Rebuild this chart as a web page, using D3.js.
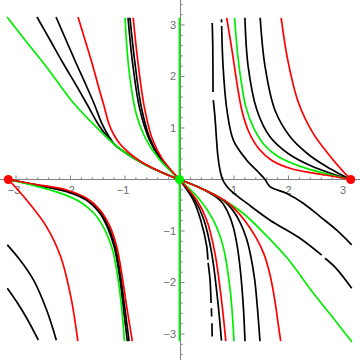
<!DOCTYPE html>
<html><head><meta charset="utf-8">
<script src="https://cdn.jsdelivr.net/npm/d3@7"></script>
<style>html,body{margin:0;padding:0;background:#fff;}svg{display:block;}</style>
</head><body>
<script>
// ---- data ----
const xTickValues = [-3, -2, -1, 1, 2, 3];
const yTickValues = [-3, -2, -1, 1, 2, 3];
const redPoints = [[-3.1416, 0], [3.1416, 0]];
const greenPoints = [[0, 0]];

// Quadrant I : curves running into (pi, 0)
const q1Red1 = [[0.866,3.14],[0.969,2.47],[1.061,1.821],[1.152,1.305],[1.275,0.917],[1.459,0.592],[1.703,0.365],[2.07,0.204],[2.683,0.087],[3.14,0]];
const q1Green = [[1.01,3.14],[1.07,2.40],[1.14,1.85],[1.22,1.40],[1.36,1.00],[1.55,0.68],[1.80,0.45],[2.20,0.26],[2.70,0.11],[3.14,0]];
const q1Black1 = [[1.20,3.14],[1.26,2.19],[1.42,1.35],[1.66,0.83],[2.0,0.50],[2.4,0.27],[2.8,0.11],[3.14,0]];
const q1Black2 = [[1.48,3.14],[1.57,2.19],[1.75,1.35],[2.03,0.83],[2.35,0.50],[2.68,0.26],[2.95,0.10],[3.14,0]];
const q1Red2 = [[1.865,3.14],[1.99,2.30],[2.18,1.50],[2.45,0.90],[2.82,0.38],[3.14,0]];
// black curves crossing the x axis (broken pieces)
const k1a = [[0.60,3.04],[0.61,2.6],[0.615,1.70]];
const k1b = [[0.62,1.54],[0.65,1.22],[0.70,0.50],[0.74,0.20],[0.79,0],[0.866,-0.13],[0.987,-0.26],[1.233,-0.46],[1.66,-0.79],[2.21,-1.14],[2.61,-1.47]];
const k1c = [[2.67,-1.53],[2.87,-1.72],[3.16,-2.11]];
const k2a = [[0.77,3.11],[0.772,3.05]];
const k2b = [[0.773,2.98],[0.80,2.19],[0.87,1.35],[0.99,0.76],[1.23,0.38],[1.44,0.15],[1.57,0],[1.66,-0.14],[1.97,-0.27],[2.27,-0.46],[2.58,-0.72],[2.88,-0.98],[3.16,-1.27]];

// Quadrant IV : curves leaving the origin downward
const q4GreenLong = [[0,0],[0.321,-0.136],[0.633,-0.291],[0.945,-0.485],[1.183,-0.67],[1.55,-1.04],[1.972,-1.52],[2.468,-2.223],[2.835,-2.709],[3.165,-3.155]];
const q4Red2 = [[0,0],[0.321,-0.136],[0.633,-0.291],[0.85,-0.42],[1.02,-0.58],[1.20,-0.80],[1.40,-1.12],[1.55,-1.45],[1.66,-1.85],[1.75,-2.35],[1.81,-2.80],[1.857,-3.14]];
const q4Black2 = [[0,0],[0.321,-0.136],[0.633,-0.291],[0.82,-0.42],[0.98,-0.60],[1.12,-0.85],[1.23,-1.15],[1.31,-1.50],[1.38,-1.95],[1.43,-2.50],[1.477,-3.14]];
const q4Black1 = [[0,0],[0.321,-0.136],[0.60,-0.29],[0.76,-0.42],[0.88,-0.62],[0.98,-0.90],[1.06,-1.30],[1.12,-1.80],[1.17,-2.45],[1.202,-3.14]];
const q4Green = [[0,0],[0.376,-0.40],[0.62,-0.79],[0.80,-1.30],[0.93,-2.15],[1.00,-3.14]];
const q4Red1 = [[0,0],[0.316,-0.40],[0.50,-0.79],[0.65,-1.43],[0.77,-2.34],[0.85,-3.14]];
const q4Black0 = [[0,0],[0.284,-0.40],[0.45,-0.79],[0.59,-1.43],[0.70,-2.34],[0.77,-3.13]];
const q4DashA = [[0,0],[0.253,-0.40],[0.39,-0.79],[0.50,-1.30],[0.52,-1.56]];
const q4DashB = [[0.525,-1.62],[0.56,-1.95],[0.58,-2.40]];
const q4DashC = [[0.585,-2.50],[0.59,-2.66]];
const q4DashD = [[0.595,-2.79],[0.60,-3.05]];

// Quadrant II : curves running into the origin from above
const q2GreenLong = [[-3.165,3.155],[-2.835,2.709],[-2.468,2.223],[-1.972,1.52],[-1.55,1.04],[-1.183,0.67],[-0.945,0.485],[-0.633,0.291],[-0.321,0.136],[0,0]];
const q2Black1 = [[-2.615,3.155],[-2.376,2.709],[-2.138,2.262],[-1.899,1.835],[-1.679,1.427],[-1.495,1.078],[-1.349,0.864],[-1.183,0.67],[-0.945,0.485],[-0.633,0.291],[-0.321,0.136],[0,0]];
const q2Black2 = [[-2.266,3.155],[-2.083,2.709],[-1.899,2.262],[-1.716,1.835],[-1.55,1.427],[-1.422,1.078],[-1.312,0.864],[-1.183,0.67],[-0.945,0.485],[-0.633,0.291],[-0.321,0.136],[0,0]];
const q2Red2 = [[-1.862,3.155],[-1.734,2.709],[-1.606,2.262],[-1.495,1.835],[-1.385,1.427],[-1.294,1.078],[-1.202,0.864],[-1.092,0.689],[-0.945,0.534],[-0.725,0.359],[-0.321,0.136],[0,0]];
const q2Green = [[-1.00,3.14],[-0.93,2.15],[-0.80,1.30],[-0.62,0.79],[-0.376,0.40],[0,0]];
const q2Black3 = [[-0.945,3.14],[-0.86,2.25],[-0.73,1.37],[-0.56,0.79],[-0.35,0.40],[0,0]];
const q2Black4 = [[-0.91,3.14],[-0.82,2.28],[-0.70,1.40],[-0.54,0.79],[-0.335,0.40],[0,0]];
const q2Red1 = [[-0.85,3.14],[-0.77,2.34],[-0.65,1.43],[-0.50,0.79],[-0.316,0.40],[0,0]];

// Quadrant III : curves leaving (-pi, 0) downward
const q3Red1 = [[-3.14,0],[-2.683,-0.087],[-2.07,-0.204],[-1.703,-0.365],[-1.459,-0.592],[-1.275,-0.917],[-1.152,-1.305],[-1.061,-1.821],[-0.969,-2.47],[-0.866,-3.14]];
const q3Black1 = [[-3.14,0],[-2.683,-0.094],[-2.07,-0.222],[-1.703,-0.388],[-1.469,-0.615],[-1.296,-0.939],[-1.174,-1.327],[-1.083,-1.866],[-1.001,-2.514],[-0.926,-3.14]];
const q3Black2 = [[-3.14,0],[-2.683,-0.099],[-2.07,-0.235],[-1.703,-0.405],[-1.478,-0.632],[-1.312,-0.955],[-1.19,-1.343],[-1.098,-1.899],[-1.024,-2.547],[-0.957,-3.14]];
const q3Green = [[-3.14,0],[-2.70,-0.11],[-2.20,-0.26],[-1.80,-0.45],[-1.55,-0.68],[-1.36,-1.00],[-1.22,-1.40],[-1.14,-1.85],[-1.07,-2.40],[-1.01,-3.14]];
const q3Red2 = [[-3.14,0],[-2.82,-0.38],[-2.45,-0.90],[-2.18,-1.50],[-1.99,-2.30],[-1.865,-3.14]];
const q3BlackEdge1 = [[-3.16,-1.27],[-2.93,-1.56],[-2.68,-1.95],[-2.44,-2.53],[-2.26,-3.12]];
const q3BlackEdge2 = [[-3.16,-2.11],[-2.99,-2.37],[-2.80,-2.70],[-2.59,-3.12]];

const greenAxisLine = [[0,-3.1416],[0,3.1416]];

const blackCurves = [k1a,k1b,k1c,k2a,k2b,q1Black1,q1Black2,q4Black2,q4Black1,q4Black0,q4DashA,q4DashB,q4DashC,q4DashD,
  q2Black1,q2Black2,q2Black3,q2Black4,q3Black1,q3Black2,q3BlackEdge1,q3BlackEdge2];
const greenCurves = [greenAxisLine,q1Green,q4GreenLong,q4Green,q2GreenLong,q2Green,q3Green];
const redCurves = [q1Red1,q1Red2,q4Red2,q4Red1,q2Red2,q2Red1,q3Red1,q3Red2];

// ---- drawing ----
const W = 360, H = 360;
const x = d3.scaleLinear().domain([-3.294, 3.312]).range([0, W]);
const y = d3.scaleLinear().domain([3.485, -3.505]).range([0, H]);

const svg = d3.select("body").append("svg").attr("width", W).attr("height", H);

const axisColor = "#808080";
const labelColor = "#6e6e6e";
svg.append("line").attr("x1",0).attr("x2",W).attr("y1",y(0)).attr("y2",y(0)).attr("stroke",axisColor).attr("stroke-width",1);
svg.append("line").attr("x1",x(0)+1).attr("x2",x(0)+1).attr("y1",0).attr("y2",H).attr("stroke",axisColor).attr("stroke-width",1);

const minorX = d3.range(-3.2, 3.3, 0.2).filter(v => Math.abs(v - Math.round(v)) > 1e-6);
const minorY = d3.range(-3.4, 3.5, 0.2).filter(v => Math.abs(v - Math.round(v)) > 1e-6);
svg.selectAll(".mx").data(minorX).enter().append("line")
  .attr("x1",d=>x(d)).attr("x2",d=>x(d)).attr("y1",y(0)).attr("y2",y(0)-2.2).attr("stroke",axisColor);
svg.selectAll(".Mx").data(xTickValues).enter().append("line")
  .attr("x1",d=>x(d)).attr("x2",d=>x(d)).attr("y1",y(0)).attr("y2",y(0)-4).attr("stroke",axisColor);
svg.selectAll(".my").data(minorY).enter().append("line")
  .attr("y1",d=>y(d)).attr("y2",d=>y(d)).attr("x1",x(0)+1).attr("x2",x(0)+3.2).attr("stroke",axisColor);
svg.selectAll(".My").data(yTickValues).enter().append("line")
  .attr("y1",d=>y(d)).attr("y2",d=>y(d)).attr("x1",x(0)+1).attr("x2",x(0)+5).attr("stroke",axisColor);

const fmt = v => (v < 0 ? "\u2212" + Math.abs(v) : String(v));
svg.selectAll(".lx").data(xTickValues).enter().append("text")
  .attr("x",d=>x(d) + (d<0 ? -2 : 0)).attr("y",y(0)+15).attr("text-anchor","middle")
  .attr("font-family","Liberation Sans, Arial, sans-serif").attr("font-size",11).attr("fill",labelColor).text(fmt);
svg.selectAll(".ly").data(yTickValues).enter().append("text")
  .attr("x",x(0)-3.5).attr("y",d=>y(d)+4).attr("text-anchor","end")
  .attr("font-family","Liberation Sans, Arial, sans-serif").attr("font-size",11).attr("fill",labelColor).text(fmt);

const line = d3.line().x(d=>x(d[0])).y(d=>y(d[1])).curve(d3.curveCatmullRom.alpha(0.5));
function draw(list, color){
  svg.append("g").selectAll("path").data(list).enter().append("path")
    .attr("d", line).attr("fill","none").attr("stroke",color).attr("stroke-width",1.7)
    .attr("stroke-linecap","butt").attr("stroke-linejoin","round");
}
draw(blackCurves, "#000");
draw(greenCurves, "#00ee00");
draw(redCurves, "#ff0000");

svg.selectAll(".rp").data(redPoints).enter().append("circle")
  .attr("cx",d=>x(d[0])).attr("cy",d=>y(d[1])).attr("r",4.5).attr("fill","#ff0000");
svg.selectAll(".gp").data(greenPoints).enter().append("circle")
  .attr("cx",d=>x(d[0])).attr("cy",d=>y(d[1])).attr("r",4.5).attr("fill","#00ee00");
</script>
</body></html>
